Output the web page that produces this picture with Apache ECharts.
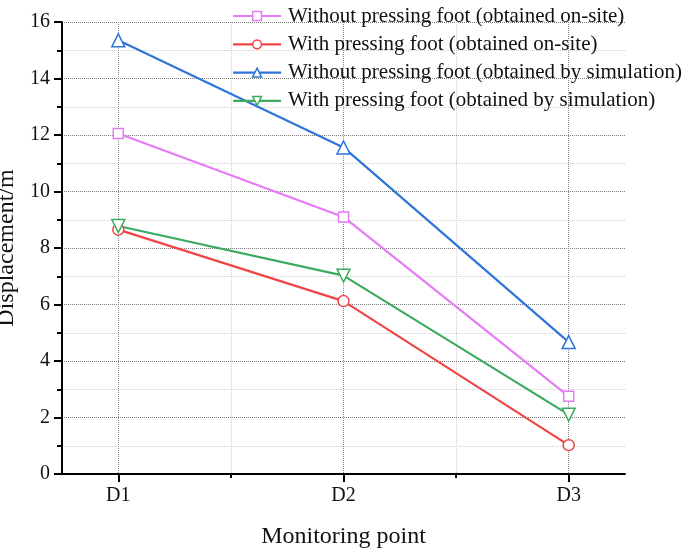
<!DOCTYPE html>
<html>
<head>
<meta charset="utf-8">
<script src="https://cdn.jsdelivr.net/npm/echarts@6/dist/echarts.min.js"></script>
<style>html,body{margin:0;padding:0;background:#fff;}#c{width:685px;height:548px;}</style>
</head>
<body>
<div id="c"></div>
<script>
// Monitoring points (x positions 1,2,3 on the axis)
const categories = ['D1', 'D2', 'D3'];
const categoryPos = [1, 2, 3];
const seriesNames = [
  'Without pressing foot (obtained on-site)',
  'With pressing foot (obtained on-site)',
  'Without pressing foot (obtained by simulation)',
  'With pressing foot (obtained by simulation)'
];
const withoutOnSite = [12.05, 9.1, 2.75];
const withOnSite = [8.65, 6.12, 1.02];
const withoutSim = [15.35, 11.56, 4.67];
const withSim = [8.78, 7.02, 2.1];
const yTicks = [0, 2, 4, 6, 8, 10, 12, 14, 16];

const FONT = 'Liberation Serif';
const colors = ['#E57BF5', '#F04545', '#2F74DA', '#3DAA62'];
const symbols = ['rect', 'circle', 'triangle', 'triangle'];
const rotates = [0, 0, 0, 180];
const sizes = [10, 11, 13, 13];
const datasets = [withoutOnSite, withOnSite, withoutSim, withSim];

const series = datasets.map((vals, i) => ({
  name: seriesNames[i],
  type: 'line',
  data: vals.map((v, k) => [categoryPos[k], v]),
  symbol: symbols[i],
  symbolRotate: rotates[i],
  symbolSize: sizes[i],
  showAllSymbol: true,
  lineStyle: { color: colors[i], width: 2.2 },
  itemStyle: { color: '#fff', borderColor: colors[i], borderWidth: 1.5 },
  z: 3
}));

const chart = echarts.init(document.getElementById('c'), null, { renderer: 'canvas' });
chart.setOption({
  animation: false,
  backgroundColor: '#fff',
  textStyle: { fontFamily: FONT },
  grid: { left: 62, right: 60, top: 22, bottom: 74, containLabel: false, outerBoundsMode: 'none' },
  legend: {
    orient: 'vertical',
    left: 227,
    top: -1,
    itemWidth: 48,
    itemHeight: 11,
    itemGap: 4.3,
    textStyle: { fontFamily: FONT, fontSize: 21, color: '#111', lineHeight: 24, padding: [0, 0, 0, 2] },
    data: seriesNames.map((n, i) => ({ name: n, itemStyle: { color: '#fff', borderColor: colors[i], borderWidth: 1.5 }, lineStyle: { color: colors[i], width: 2.2 } }))
  },
  xAxis: [{
    type: 'value',
    min: 0.75,
    max: 3.25,
    interval: 0.25,
    name: 'Monitoring point',
    nameLocation: 'middle',
    nameGap: 51,
    nameTextStyle: { fontFamily: FONT, fontSize: 24, color: '#111' },
    axisLine: { show: true, onZero: false, lineStyle: { color: '#000', width: 2 } },
    axisTick: { show: true, inside: false, length: 8, customValues: categoryPos, lineStyle: { color: '#000', width: 2 } },
    axisLabel: { customValues: categoryPos, margin: 12, fontFamily: FONT, fontSize: 20, color: '#111',
      formatter: v => categories[categoryPos.indexOf(Math.round(v))] || '' },
    splitLine: { show: true, lineStyle: { color: '#8a8a8a', type: 'dotted', width: 1 } }
  }, {
    type: 'value',
    position: 'bottom',
    min: 0.75,
    max: 3.25,
    interval: 0.25,
    axisLine: { show: false },
    axisTick: { show: true, inside: false, length: 4, customValues: [1.5, 2.5], lineStyle: { color: '#000', width: 2 } },
    axisLabel: { show: false },
    splitLine: { show: true, lineStyle: { color: '#d0d0d0', type: 'dotted', width: 1 } }
  }],
  yAxis: {
    type: 'value',
    min: 0,
    max: 16,
    interval: 2,
    name: 'Displacement/m',
    nameLocation: 'middle',
    nameGap: 38,
    nameTextStyle: { fontFamily: FONT, fontSize: 24, color: '#111' },
    axisLine: { show: true, lineStyle: { color: '#000', width: 2 } },
    axisTick: { show: true, inside: false, length: 8, lineStyle: { color: '#000', width: 2 } },
    minorTick: { show: true, splitNumber: 2, length: 5, lineStyle: { color: '#000', width: 2 } },
    axisLabel: { margin: 12, fontFamily: FONT, fontSize: 20, color: '#111',
      formatter: v => (yTicks.indexOf(v) >= 0 ? String(v) : '') },
    splitLine: { show: true, lineStyle: { color: '#7a7a7a', type: 'dotted', width: 1 } },
    minorSplitLine: { show: true, lineStyle: { color: '#d0d0d0', type: 'dotted', width: 1 } }
  },
  series: series
});
</script>
</body>
</html>
